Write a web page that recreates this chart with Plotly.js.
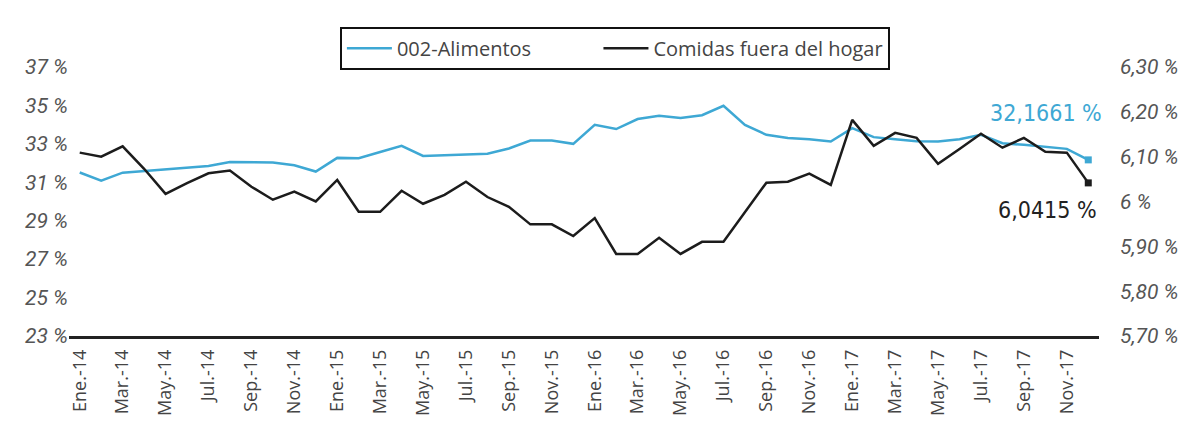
<!DOCTYPE html>
<html>
<head>
<meta charset="utf-8">
<script src="https://cdn.plot.ly/plotly-3.0.1.min.js"></script>
<style>html,body{margin:0;padding:0;background:#fff;}#chart{width:1192px;height:427px;}</style>
</head>
<body>
<div id="chart"></div>
<script>
const months = ["Ene.","Feb.","Mar.","Abr.","May.","Jun.","Jul.","Ago.","Sep.","Oct.","Nov.","Dic."];
const years = ["14","15","16","17"];
const categories = [];
years.forEach(y => months.forEach(m => categories.push(m + "-" + y)));

const alimentos = [31.51,31.09,31.50,31.58,31.68,31.75,31.85,32.06,32.06,32.03,31.89,31.56,
                   32.27,32.25,32.58,32.90,32.37,32.41,32.44,32.49,32.76,33.17,33.17,33.00,
                   33.99,33.77,34.29,34.46,34.34,34.49,34.98,33.99,33.47,33.31,33.24,33.12,
                   33.82,33.35,33.24,33.14,33.12,33.24,33.47,33.03,32.95,32.83,32.74,32.1661];
const comidas = [6.109,6.100,6.123,6.073,6.017,6.041,6.063,6.069,6.033,6.004,6.022,6.000,
                 6.048,5.977,5.977,6.024,5.995,6.015,6.044,6.010,5.988,5.949,5.949,5.923,
                 5.963,5.883,5.883,5.919,5.883,5.910,5.910,5.975,6.042,6.044,6.062,6.037,
                 6.182,6.124,6.153,6.142,6.084,6.117,6.151,6.120,6.142,6.111,6.109,6.0415];

const leftTicks = [23,25,27,29,31,33,35,37];
const leftLabels = ["23 %","25 %","27 %","29 %","31 %","33 %","35 %","37 %"];
const rightTicks = [5.70,5.80,5.90,6.00,6.10,6.20,6.30];
const rightLabels = ["5,70 %","5,80 %","5,90 %","6 %","6,10 %","6,20 %","6,30 %"];
const xTickVals = categories.filter((c,i) => i % 2 === 0);

const lastCat = categories[categories.length-1];
const blue = "#3ea8d4";
const black = "#1c1c1c";
const SP = "\u00a0";

const traces = [
  {x: categories, y: alimentos, type: "scatter", mode: "lines", name: "002-Alimentos" + SP.repeat(12),
   line: {color: blue, width: 2.5}, yaxis: "y"},
  {x: categories, y: comidas, type: "scatter", mode: "lines", name: "Comidas fuera del hogar",
   line: {color: black, width: 2.5}, yaxis: "y2"},
  {x: [lastCat], y: [alimentos[alimentos.length-1]], type: "scatter", mode: "markers",
   marker: {symbol: "square", size: 7, color: blue}, showlegend: false, yaxis: "y"},
  {x: [lastCat], y: [comidas[comidas.length-1]], type: "scatter", mode: "markers",
   marker: {symbol: "square", size: 7, color: black}, showlegend: false, yaxis: "y2"}
];

const tickFont = {family: "Roboto, 'Liberation Sans', sans-serif", size: 21, color: "#555", style: "italic"};
const condensed = "'Liberation Sans Narrow', 'DejaVu Sans Condensed', 'Roboto Condensed', sans-serif";

const layout = {
  width: 1192, height: 427,
  margin: {l: 69, r: 93, t: 67, b: 91},
  paper_bgcolor: "#fff", plot_bgcolor: "#fff",
  showlegend: true,
  legend: {orientation: "h", x: 0.53, xanchor: "center", y: 1.15, yanchor: "top",
           bordercolor: "#111", borderwidth: 2, bgcolor: "#fff",
           font: {family: "'Open Sans', Lato, sans-serif", size: 20, color: "#444"},
           itemwidth: 45, tracegroupgap: 0},
  xaxis: {type: "category", categoryorder: "array", categoryarray: categories,
          range: [-0.5, categories.length - 0.5],
          tickmode: "array", tickvals: xTickVals, ticktext: xTickVals, tickangle: -90,
          tickfont: {family: "'Open Sans', sans-serif", size: 18, color: "#444"},
          showline: true, linecolor: "#222", linewidth: 2.5, showgrid: false, zeroline: false,
          ticks: "", ticklen: 0, ticklabelstandoff: 4},
  yaxis: {range: [23, 37], tickmode: "array", tickvals: leftTicks, ticktext: leftLabels,
          tickfont: tickFont, showgrid: false, zeroline: false, showline: false, ticks: ""},
  yaxis2: {range: [5.70, 6.30], overlaying: "y", side: "right", tickmode: "array",
           tickvals: rightTicks, ticktext: rightLabels, tickfont: tickFont,
           showgrid: false, zeroline: false, showline: false, ticks: "", ticklabelstandoff: 20},
  annotations: [
    {xref: "paper", yref: "paper", x: 1.005, y: 0.829, xanchor: "right", yanchor: "middle",
     text: "32,1661 %", showarrow: false,
     font: {family: condensed, size: 23, color: blue}},
    {xref: "paper", yref: "paper", x: 1.0, y: 0.468, xanchor: "right", yanchor: "middle",
     text: "6,0415 %", showarrow: false,
     font: {family: condensed, size: 23, color: "#222"}}
  ]
};

Plotly.newPlot("chart", traces, layout, {displayModeBar: false, staticPlot: true});
</script>
</body>
</html>
